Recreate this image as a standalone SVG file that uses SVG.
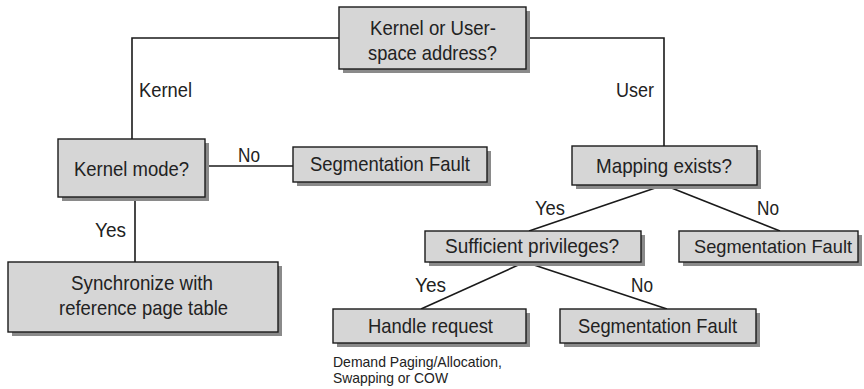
<svg xmlns="http://www.w3.org/2000/svg" width="864" height="389" viewBox="0 0 864 389">
<style>
.box{fill:#d6d6d6;stroke:#1a1a1a;stroke-width:1.4}
.sh{fill:#8a8a8a}
.l{font-family:"Liberation Sans",Arial,sans-serif;font-size:21px;fill:#222}
.m{font-family:"Liberation Sans",Arial,sans-serif;font-size:19px;fill:#222;text-anchor:middle}
.s{font-family:"Liberation Sans",Arial,sans-serif;font-size:14.5px;fill:#222}
.c{fill:none;stroke:#1a1a1a;stroke-width:1.6}
</style>
<rect width="864" height="389" fill="#fff"/>
<g id="connectors">
<polyline class="c" points="339,38 132,38 132,139"/>
<polyline class="c" points="526,38 664,38 664,146"/>
<line class="c" x1="205" y1="166" x2="293" y2="166"/>
<line class="c" x1="135" y1="197" x2="135" y2="262"/>
<line class="c" x1="664" y1="185" x2="529" y2="231"/>
<line class="c" x1="664" y1="185" x2="780" y2="231"/>
<line class="c" x1="525" y1="262" x2="421" y2="309"/>
<line class="c" x1="525" y1="262" x2="667" y2="309"/>
<text class="l" x="139" y="97" textLength="53" lengthAdjust="spacingAndGlyphs">Kernel</text>
<text class="l" x="616" y="97" textLength="38" lengthAdjust="spacingAndGlyphs">User</text>
<text class="l" x="238" y="162" textLength="22" lengthAdjust="spacingAndGlyphs">No</text>
<text class="l" x="95" y="237" textLength="31" lengthAdjust="spacingAndGlyphs">Yes</text>
<text class="l" x="535" y="215" textLength="30" lengthAdjust="spacingAndGlyphs">Yes</text>
<text class="l" x="757" y="215" textLength="22" lengthAdjust="spacingAndGlyphs">No</text>
<text class="l" x="415" y="292" textLength="31" lengthAdjust="spacingAndGlyphs">Yes</text>
<text class="l" x="631" y="292" textLength="22" lengthAdjust="spacingAndGlyphs">No</text>
</g>
<g id="n-top">
<rect class="sh" x="343" y="11" width="187" height="62"/>
<rect class="box" x="339" y="7" width="187" height="62"/>
<text class="l" x="370" y="35" textLength="126" lengthAdjust="spacingAndGlyphs">Kernel or User-</text>
<text class="l" x="368" y="60" textLength="129" lengthAdjust="spacingAndGlyphs">space address?</text>
</g>
<g id="n-kmode">
<rect class="sh" x="62" y="143" width="147" height="58"/>
<rect class="box" x="58" y="139" width="147" height="58"/>
<text class="l" x="74" y="176" textLength="115" lengthAdjust="spacingAndGlyphs">Kernel mode?</text>
</g>
<g id="n-seg1">
<rect class="sh" x="297" y="151" width="194" height="35"/>
<rect class="box" x="293" y="147" width="194" height="35"/>
<text class="l" x="310" y="171" textLength="160" lengthAdjust="spacingAndGlyphs">Segmentation Fault</text>
</g>
<g id="n-map">
<rect class="sh" x="576" y="150" width="185" height="39"/>
<rect class="box" x="572" y="146" width="185" height="39"/>
<text class="l" x="596" y="173" textLength="136" lengthAdjust="spacingAndGlyphs">Mapping exists?</text>
</g>
<g id="n-sync">
<rect class="sh" x="12" y="266" width="270" height="70"/>
<rect class="box" x="8" y="262" width="270" height="70"/>
<text class="l" x="71" y="290" textLength="142" lengthAdjust="spacingAndGlyphs">Synchronize with</text>
<text class="l" x="59" y="315" textLength="169" lengthAdjust="spacingAndGlyphs">reference page table</text>
</g>
<g id="n-priv">
<rect class="sh" x="429" y="235" width="216" height="31"/>
<rect class="box" x="425" y="231" width="216" height="31"/>
<text class="l" x="445" y="253" textLength="174" lengthAdjust="spacingAndGlyphs">Sufficient privileges?</text>
</g>
<g id="n-seg2">
<rect class="sh" x="683" y="235" width="179" height="31"/>
<rect class="box" x="679" y="231" width="179" height="31"/>
<text class="m" x="773" y="253" textLength="158" lengthAdjust="spacingAndGlyphs">Segmentation Fault</text>
</g>
<g id="n-handle">
<rect class="sh" x="337" y="313" width="193" height="34"/>
<rect class="box" x="333" y="309" width="193" height="34"/>
<text class="l" x="368" y="333" textLength="125" lengthAdjust="spacingAndGlyphs">Handle request</text>
<text class="s" x="333" y="367" textLength="169" lengthAdjust="spacingAndGlyphs">Demand Paging/Allocation,</text>
<text class="s" x="333" y="383" textLength="115" lengthAdjust="spacingAndGlyphs">Swapping or COW</text>
</g>
<g id="n-seg3">
<rect class="sh" x="564" y="313" width="196" height="34"/>
<rect class="box" x="560" y="309" width="196" height="34"/>
<text class="l" x="578" y="333" textLength="159" lengthAdjust="spacingAndGlyphs">Segmentation Fault</text>
</g>
</svg>
